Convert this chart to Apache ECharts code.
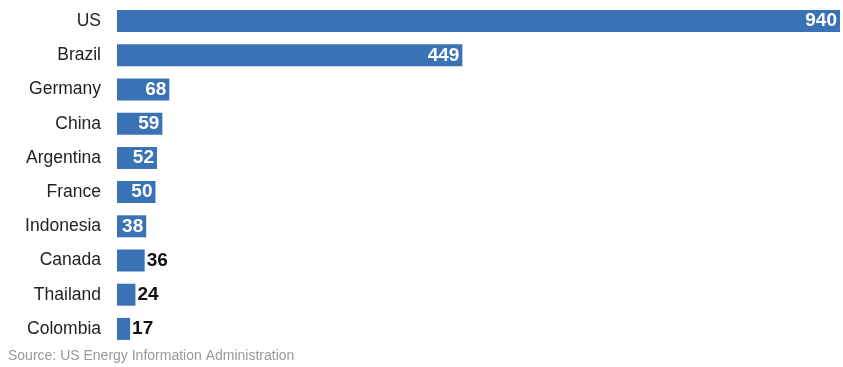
<!DOCTYPE html>
<html>
<head>
<meta charset="utf-8">
<script src="https://cdn.jsdelivr.net/npm/echarts@6/dist/echarts.min.js"></script>
<style>
  html, body { margin: 0; padding: 0; background: #fff; }
  #chart { width: 843px; height: 367px; }
</style>
</head>
<body>
<div id="chart"></div>
<script>
// data, top to bottom
const countries = ['US', 'Brazil', 'Germany', 'China', 'Argentina', 'France', 'Indonesia', 'Canada', 'Thailand', 'Colombia'];
const values = [940, 449, 68, 59, 52, 50, 38, 36, 24, 17];
// bars shorter than this get their label outside in black
const outsideBelow = 37;

const chart = echarts.init(document.getElementById('chart'));

const barData = values.map(function (v) {
  const outside = v < outsideBelow;
  return {
    value: v,
    label: outside
      ? { position: 'right', distance: 2, color: '#111' }
      : { position: 'insideRight', distance: 3, color: '#fff' }
  };
});

const option = {
  animation: false,
  textStyle: { fontFamily: 'Liberation Sans, Arial, sans-serif' },
  grid: { left: 117, right: 3, top: 4, bottom: 21 },
  xAxis: {
    type: 'value',
    min: 0,
    max: 940,
    show: false
  },
  yAxis: {
    type: 'category',
    inverse: true,
    data: countries,
    axisLine: { show: false },
    axisTick: { show: false },
    axisLabel: {
      margin: 16,
      fontSize: 17.5,
      color: '#222'
    }
  },
  series: [{
    type: 'bar',
    data: barData,
    barWidth: 22,
    itemStyle: { color: '#3a73b5' },
    label: {
      show: true,
      fontSize: 19,
      fontWeight: 'bold'
    }
  }],
  graphic: [{
    type: 'text',
    left: 8,
    top: 349,
    style: {
      text: 'Source: US Energy Information Administration',
      fontSize: 14,
      fill: '#999',
      fontFamily: 'Liberation Sans, Arial, sans-serif'
    }
  }]
};

chart.setOption(option);
</script>
</body>
</html>
